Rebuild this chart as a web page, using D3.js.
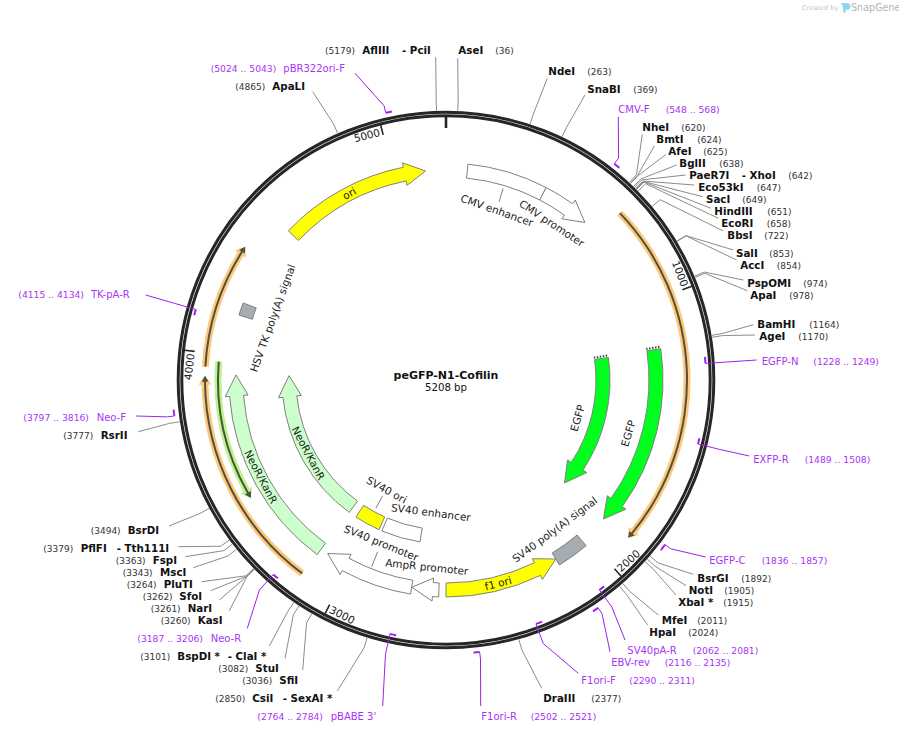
<!DOCTYPE html>
<html>
<head>
<meta charset="utf-8">
<script src="https://cdn.jsdelivr.net/npm/d3@7"></script>
<style>
body { margin: 0; background: #fff; }
text { font-family: "DejaVu Sans", sans-serif; }
</style>
</head>
<body>
<svg id="map" width="899" height="733"></svg>
<script>
var plasmidName = "peGFP-N1-Cofilin",
    plasmidLength = 5208;

var rulerTicks = [1000, 2000, 3000, 4000, 5000];

// restriction sites
var enzymeNames = ["AseI", "NdeI", "SnaBI", "NheI", "BmtI", "AfeI", "BglII", "PaeR7I", "Eco53kI", "SacI",
    "HindIII", "EcoRI", "BbsI", "SalI", "AccI", "PspOMI", "ApaI", "BamHI", "AgeI", "BsrGI", "NotI", "XbaI *",
    "MfeI", "HpaI", "DraIII", "CsiI", "SfiI", "StuI", "BspDI *", "KasI", "NarI", "SfoI", "PluTI", "MscI",
    "FspI", "PflFI", "BsrDI", "RsrII", "ApaLI", "AflIII"];
var enzymeSecond = { "PaeR7I": "- XhoI", "CsiI": "- SexAI *", "BspDI *": "- ClaI *", "PflFI": "- Tth111I", "AflIII": "- PciI" };
var enzymeSites = [36, 263, 369, 620, 624, 625, 638, 642, 647, 649,
    651, 658, 722, 853, 854, 974, 978, 1164, 1170, 1892, 1905, 1915,
    2011, 2024, 2377, 2850, 3036, 3082, 3101, 3260, 3261, 3262, 3264, 3343,
    3363, 3379, 3494, 3777, 4865, 5179];

// primers
var primerNames = ["CMV-F", "EGFP-N", "EXFP-R", "EGFP-C", "SV40pA-R", "EBV-rev", "F1ori-F", "F1ori-R",
    "pBABE 3'", "Neo-R", "Neo-F", "TK-pA-R", "pBR322ori-F"];
var primerStarts = [548, 1228, 1489, 1836, 2062, 2116, 2290, 2502, 2764, 3187, 3797, 4115, 5024];
var primerEnds = [568, 1249, 1508, 1857, 2081, 2135, 2311, 2521, 2784, 3206, 3816, 4134, 5043];
var primerStrands = [1, -1, -1, 1, -1, 1, -1, 1, -1, -1, 1, -1, 1];

// features, tail to tip
var featureNames = ["CMV enhancer", "CMV promoter", "ori", "EGFP", "EGFP", "SV40 poly(A) signal", "f1 ori",
    "AmpR promoter", "SV40 promoter", "NeoR/KanR", "NeoR/KanR", "SV40 ori", "SV40 enhancer", "HSV TK poly(A) signal"];
var featureFrom = [84, 398, 4534, 1182, 1188, 2022, 2604, 2632, 2740, 3131, 3127, 2953, 2736, 4158];
var featureTo = [398, 599, 5127, 1901, 1895, 2148, 2148, 2739, 3100, 3926, 3929, 3086, 2937, 4207];
var featureKinds = ["regulatory", "promoter", "rep", "cds", "cds", "polyA", "rep",
    "promoter", "promoter", "marker", "marker", "rep", "regulatory", "polyA"];

// translated regions shown as thin arrows
var orfFrom = [668, 3134, 3952, 3973];
var orfTo = [1894, 3921, 4392, 3455];
var orfKinds = ["orange", "orange", "orange", "green"];

// ---- layout below, not data ----
var width = 899, height = 733, cx = 446, cy = 380;

var kindFill = { regulatory: "#fff", promoter: "#fff", rep: "#ffff00", cds: "#00ff1e", polyA: "#a6acb3", marker: "#ccffcc" };
var outerTrack = [203, 217], innerTrack = [150, 164];
var featureOnInner = [false, false, false, false, true, false, false, false, false, false, true, true, true, false];
var featureHasHead = [false, true, true, true, true, false, true, true, true, true, true, false, false, false];
var featurePartial = [false, false, false, true, true, false, false, false, false, false, false, false, false, false];
// label position along the circle, radius, rotation
var featureLabelAt = [[242, 177, 19.5], [492, 189, 33.5], [4812, 210, -27.4], [1538, 190, -73.7], [1536, 137, -73.8],
    [2083, 185, -36.5], [2396, 210, -14.4], [2689, 188, 6], [2918, 175.5, 22], [3507, 209, 62.4], [3501, 156, 62],
    [3014, 125, 29], [2698, 133.5, 7.2], [4190, 184, -70]];
// short stems from a feature to its label: [bp, r from, r to]
var featureStems = [[240, 200, 186], [3019, 146, 132], [2918, 201, 185]];

var orfRadius = { orange: 241, green: 228 };
var orfColors = { orange: ["#fdc97f", "#54503c"], green: ["#bdf28c", "#47553a"] };

// [name x, number x, row centre y, leader end x, leader end y, second name x]
var enzymeLabels = [
    [458.3, 495.3, 50, 457.7, 58.3], [548.3, 587.3, 71.7, 547.3, 78.3], [587.3, 633.3, 89.3, 585, 95],
    [642.3, 681.3, 127.3, 642.3, 134.3], [656.3, 697.3, 139.3, 654.3, 146], [668.3, 703.3, 151.3, 665.7, 154.7],
    [679.3, 719.3, 163.3, 676.7, 165], [689.3, 788.3, 175.3, 685.7, 175, 741.7], [698.3, 756.7, 187.3, 694, 185],
    [706, 742.3, 199.3, 702.7, 196.7], [714.3, 767.3, 211.3, 711, 208.3], [721.3, 766.7, 223.3, 718.3, 218.3],
    [727.3, 764.3, 235.3, 723.3, 231], [736, 769.3, 253.3, 733.3, 250], [740.3, 776.7, 265.3, 736.7, 260],
    [747.3, 803.3, 283.3, 743.3, 280], [750.3, 789.3, 295.3, 747.3, 290.7], [757.3, 809.3, 324.3, 753.3, 324.7],
    [759.3, 798.3, 336.3, 755, 335], [697.3, 741.3, 578.3, 693.3, 574.3], [688.7, 724.3, 590.3, 686, 585.7],
    [678.3, 723.3, 602.3, 676, 595], [661.7, 697.3, 620.3, 658.3, 615], [649.3, 688.3, 632.3, 647.7, 625],
    [543.3, 591.3, 698.3, 541.7, 688.3], [252.3, 215.3, 698, 337.3, 691, 282.7], [279.3, 242.3, 680, 302.7, 670],
    [255.3, 218.3, 668, 285, 658.3], [177.3, 140.3, 656, 269.3, 646, 227.7], [197.7, 160.7, 620, 229.3, 610.7],
    [187.7, 150.7, 608, 219.3, 600], [179.3, 142.7, 596, 210.7, 590.7], [163.7, 126.7, 584, 201.7, 581.7],
    [160, 122.7, 572, 193.3, 567.7], [152.7, 115.7, 560, 185.3, 556.7], [80.7, 43.3, 548, 178.3, 546.7, 116.7],
    [127.7, 90.7, 530, 169, 526], [100.7, 63.3, 435, 138.3, 431.7], [272.3, 235.3, 86, 312.7, 91.7],
    [362.3, 325, 50, 435.7, 57.3, 402]
];

// [name x, range x, row centre y, leader end x, leader end y]
var primerLabels = [
    [618.3, 665.7, 109.3, 618.3, 116.7], [761.7, 813.3, 361, 756.7, 360], [753.3, 804.7, 459.3, 749.3, 456],
    [709.3, 761.7, 560, 705.7, 557], [627.3, 692.7, 650, 625, 640], [611.3, 664.7, 662, 610, 651.7],
    [581.3, 629.3, 680, 578.3, 673.3], [481.3, 530.7, 716, 480.7, 706], [330.7, 257.3, 716, 382.7, 706],
    [210.7, 137.3, 638.3, 247.3, 628.3], [96.7, 23.3, 417.3, 136, 416], [91, 18.3, 294.3, 145.7, 295],
    [283.3, 210.7, 68.3, 355, 73.3]
];

var angle = d3.scaleLinear().domain([0, plasmidLength]).range([0, 2 * Math.PI]);

function polar(bp, r) {
    var a = angle(bp);
    return [cx + r * Math.sin(a), cy - r * Math.cos(a)];
}

// canvas-style angle for d3.path().arc
function canvasAngle(bp) {
    return angle(bp) - Math.PI / 2;
}

// closed band from bp "from" to bp "to", optionally ending in an arrow head
function bandPath(from, to, r0, r1, head, headLen) {
    var p = d3.path(),
        dir = to > from ? 1 : -1,
        bpPerPx = plasmidLength / (2 * Math.PI * (r0 + r1) / 2),
        neck = head > 0 ? to - dir * headLen * bpPerPx : to,
        ccw = dir < 0,
        mid = (r0 + r1) / 2,
        a = polar(from, r1);
    p.moveTo(a[0], a[1]);
    p.arc(cx, cy, r1, canvasAngle(from), canvasAngle(neck), ccw);
    if (head > 0) {
        var b1 = polar(neck, r1 + head), tip = polar(to, mid), b0 = polar(neck, r0 - head), n0 = polar(neck, r0);
        p.lineTo(b1[0], b1[1]);
        p.lineTo(tip[0], tip[1]);
        p.lineTo(b0[0], b0[1]);
        p.lineTo(n0[0], n0[1]);
    }
    p.arc(cx, cy, r0, canvasAngle(neck), canvasAngle(from), !ccw);
    p.closePath();
    return p.toString();
}

function tangentRotation(bp) {
    var deg = angle(bp) * 180 / Math.PI;
    if (deg > 90 && deg < 270) return deg - 180;
    return deg > 180 ? deg - 360 : deg;
}

var svg = d3.select("svg#map");

// watermark
var mark = svg.append("g").attr("class", "watermark");
mark.append("text").attr("x", 802).attr("y", 10).attr("font-size", 6.6).attr("fill", "#c4c4c4").text("Created by");
mark.append("path").attr("d", "M841 3h5.5q4 0 4 3.5t-4 3.5h-1v3q-2.5 0-2.5-2.5v-3q0-2-2-4.5z").attr("fill", "#8fd6f6");
mark.append("text").attr("x", 851).attr("y", 11).attr("font-size", 9.6).attr("fill", "#b5b5b5").text("SnapGene");

// thin translated regions
var orfs = svg.append("g").attr("class", "orfs");
orfFrom.forEach(function (from, i) {
    var r = orfRadius[orfKinds[i]], colors = orfColors[orfKinds[i]];
    orfs.append("path").attr("d", bandPath(from, orfTo[i], r - 3.5, r + 3.5, 3, 9)).attr("fill", colors[0]);
    orfs.append("path").attr("d", bandPath(from, orfTo[i], r - 1, r + 1, 2.5, 6)).attr("fill", colors[1]);
});

// features
var features = svg.append("g").attr("class", "features");
featureNames.forEach(function (name, i) {
    var track = featureOnInner[i] ? innerTrack : outerTrack;
    features.append("path")
        .attr("d", bandPath(featureFrom[i], featureTo[i], track[0], track[1], featureHasHead[i] ? 4.5 : 0, 21))
        .attr("fill", kindFill[featureKinds[i]])
        .attr("stroke", "#808080")
        .attr("stroke-width", 1);
    if (featurePartial[i]) {
        var nudge = 2 / ((track[0] + track[1]) / 2) * plasmidLength / (2 * Math.PI),
            c = polar(featureFrom[i] - nudge, track[0] - 0.5), d = polar(featureFrom[i] - nudge, track[1] + 0.5);
        features.append("line").attr("x1", c[0]).attr("y1", c[1]).attr("x2", d[0]).attr("y2", d[1])
            .attr("stroke", "#444").attr("stroke-width", 2).attr("stroke-dasharray", "1.5,1.5");
    }
});

featureStems.forEach(function (s) {
    var a = polar(s[0], s[1]), b = polar(s[0], s[2]);
    features.append("line").attr("x1", a[0]).attr("y1", a[1]).attr("x2", b[0]).attr("y2", b[1])
        .attr("stroke", "#808080").attr("stroke-width", 1);
});

featureNames.forEach(function (name, i) {
    var at = featureLabelAt[i], p = polar(at[0], at[1]);
    features.append("text")
        .attr("transform", "translate(" + p[0] + "," + p[1] + ") rotate(" + at[2] + ")")
        .attr("text-anchor", "middle")
        .attr("dy", "0.35em")
        .attr("font-size", 10.5)
        .attr("fill", "#1a1a1a")
        .text(name);
});

// backbone
var ring = svg.append("g").attr("class", "ring");
[267.8, 264.2].forEach(function (r) {
    ring.append("circle").attr("cx", cx).attr("cy", cy).attr("r", r)
        .attr("fill", "none").attr("stroke", "#262626").attr("stroke-width", 3);
});

// origin and ruler
var zeroA = polar(0, 264), zeroB = polar(0, 252);
ring.append("line").attr("x1", zeroA[0]).attr("y1", zeroA[1]).attr("x2", zeroB[0]).attr("y2", zeroB[1])
    .attr("stroke", "#262626").attr("stroke-width", 2.6);
rulerTicks.forEach(function (t) {
    var a = polar(t, 263), b = polar(t, 253), deg = angle(t) * 180 / Math.PI,
        lower = deg > 90 && deg < 270, p = polar(t, 256.5);
    ring.append("line").attr("x1", a[0]).attr("y1", a[1]).attr("x2", b[0]).attr("y2", b[1])
        .attr("stroke", "#262626").attr("stroke-width", 1.6);
    ring.append("text")
        .attr("transform", "translate(" + p[0] + "," + p[1] + ") rotate(" + tangentRotation(t) + ")")
        .attr("text-anchor", lower ? "start" : "end")
        .attr("dx", lower ? 2.5 : -2.5)
        .attr("dy", "0.35em")
        .attr("font-size", 10.5)
        .attr("fill", "#1a1a1a")
        .text(t);
});

// enzyme leaders and labels
var enzymes = svg.append("g").attr("class", "enzymes");
enzymeNames.forEach(function (name, i) {
    var pos = enzymeLabels[i], a = polar(enzymeSites[i], 269.5), b = polar(enzymeSites[i], 280);
    enzymes.append("path")
        .attr("d", d3.line()([a, b, [pos[3], pos[4]]]))
        .attr("fill", "none").attr("stroke", "#8c8c8c").attr("stroke-width", 1);
    enzymes.append("text").attr("x", pos[0]).attr("y", pos[2]).attr("dy", "0.35em")
        .attr("font-size", 10.3).attr("font-weight", "bold").attr("fill", "#111").text(name);
    if (enzymeSecond[name]) {
        enzymes.append("text").attr("x", pos[5]).attr("y", pos[2]).attr("dy", "0.35em")
            .attr("font-size", 10.3).attr("font-weight", "bold").attr("fill", "#111").text(enzymeSecond[name]);
    }
    enzymes.append("text").attr("x", pos[1]).attr("y", pos[2] + 0.5).attr("dy", "0.35em")
        .attr("font-size", 9).attr("fill", "#333").text("(" + enzymeSites[i] + ")");
});

// primers
var primers = svg.append("g").attr("class", "primers");
primerNames.forEach(function (name, i) {
    var pos = primerLabels[i], outer = primerStrands[i] > 0, r = outer ? 274 : 260,
        anchor = outer ? primerStarts[i] : primerEnds[i],
        a = polar(anchor, r), b = polar(anchor, 281),
        bar = d3.path();
    bar.arc(cx, cy, r, canvasAngle(primerStarts[i]), canvasAngle(primerEnds[i]));
    primers.append("path").attr("d", bar.toString())
        .attr("fill", "none").attr("stroke", "#a020f0").attr("stroke-width", 2);
    primers.append("path").attr("d", d3.line()([a, b, [pos[3], pos[4]]]))
        .attr("fill", "none").attr("stroke", "#a020f0").attr("stroke-width", 1);
    primers.append("text").attr("x", pos[0]).attr("y", pos[2]).attr("dy", "0.35em")
        .attr("font-size", 10).attr("fill", "#a933f5").text(name);
    primers.append("text").attr("x", pos[1]).attr("y", pos[2] + 0.5).attr("dy", "0.35em")
        .attr("font-size", 9.2).attr("fill", "#a933f5").text("(" + primerStarts[i] + " .. " + primerEnds[i] + ")");
});

// centre title
svg.append("text").attr("x", cx).attr("y", 379).attr("text-anchor", "middle")
    .attr("font-size", 11).attr("font-weight", "bold").attr("fill", "#111").text(plasmidName);
svg.append("text").attr("x", cx).attr("y", 391).attr("text-anchor", "middle")
    .attr("font-size", 10.2).attr("fill", "#111").text(plasmidLength + " bp");
</script>
</body>
</html>
